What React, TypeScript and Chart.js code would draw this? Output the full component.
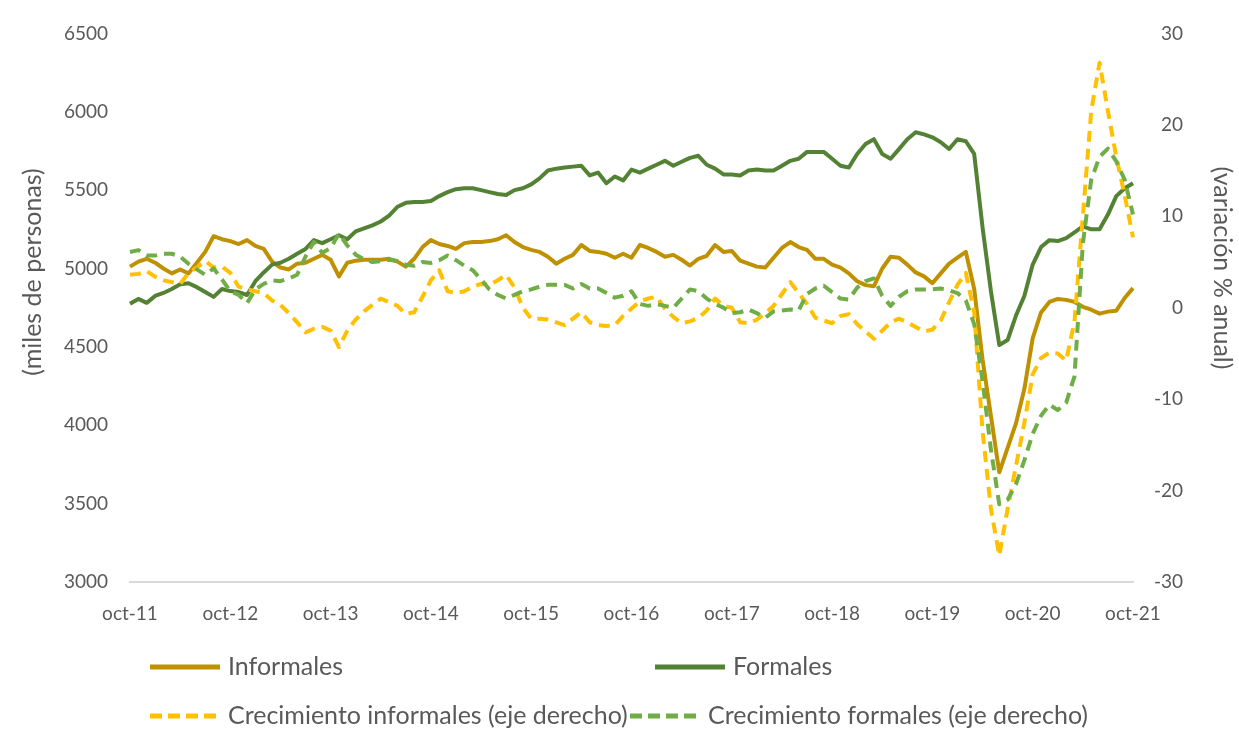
import React, { useEffect, useRef } from "react";
import { Chart, registerables } from "chart.js";

Chart.register(...registerables);

const MONTHS = ["oct", "nov", "dic", "ene", "feb", "mar", "abr", "may", "jun", "jul", "ago", "sep"];
const START_YEAR = 11;
const N_POINTS = 121;
const categories: string[] = [];
for (let i = 0; i < N_POINTS; i++) {
  const m = MONTHS[i % 12];
  const yr = START_YEAR + Math.floor((i + 9) / 12);
  categories.push(`${m}-${yr}`);
}

const informales = [
  5012, 5044, 5062, 5037, 5000, 4969, 4994, 4969, 5037, 5106, 5206, 5187,
  5175, 5156, 5181, 5144, 5125, 5044, 5006, 4994, 5031, 5037, 5062, 5087,
  5056, 4950, 5037, 5050, 5056, 5056, 5056, 5062, 5044, 5012, 5062, 5137,
  5181, 5156, 5144, 5125, 5162, 5169, 5169, 5175, 5187, 5212, 5169, 5137,
  5119, 5106, 5075, 5031, 5062, 5087, 5150, 5112, 5106, 5094, 5069, 5094,
  5069, 5150, 5131, 5106, 5075, 5087, 5056, 5019, 5062, 5081, 5150, 5106,
  5112, 5050, 5031, 5012, 5006, 5069, 5131, 5169, 5137, 5119, 5062, 5062,
  5025, 5006, 4969, 4919, 4894, 4887, 5000, 5075, 5069, 5025, 4975, 4950,
  4906, 4969, 5031, 5069, 5106, 4869, 4420, 4060, 3700, 3856, 4012, 4231,
  4556, 4720, 4787, 4806, 4800, 4787, 4756, 4737, 4712, 4725, 4731, 4812,
  4875,
];

const formales = [
  4775, 4806, 4781, 4825, 4844, 4869, 4900, 4906, 4881, 4850, 4819, 4869,
  4856, 4850, 4831, 4919, 4975, 5025, 5037, 5062, 5094, 5125, 5181, 5162,
  5187, 5212, 5187, 5237, 5256, 5275, 5300, 5337, 5394, 5419, 5425, 5425,
  5431, 5462, 5487, 5506, 5512, 5512, 5500, 5487, 5475, 5469, 5500, 5512,
  5537, 5575, 5625, 5637, 5644, 5650, 5656, 5594, 5612, 5544, 5587, 5562,
  5631, 5612, 5637, 5662, 5687, 5656, 5681, 5706, 5719, 5662, 5637, 5600,
  5600, 5594, 5625, 5631, 5625, 5625, 5656, 5687, 5700, 5744, 5744, 5744,
  5700, 5656, 5644, 5731, 5794, 5825, 5731, 5700, 5762, 5825, 5869, 5856,
  5837, 5806, 5762, 5825, 5812, 5731, 5262, 4856, 4512, 4544, 4700, 4825,
  5025, 5137, 5181, 5175, 5194, 5231, 5269, 5250, 5250, 5344, 5462, 5512,
  5544,
];

const crecInformales = [
  3.6, 3.7, 4.0, 3.4, 3.0, 2.8, 2.6, 3.8, 4.4, 5.1, 4.4, 4.5,
  3.8, 2.3, 2.0, 1.8, 1.6, 0.8, 0.3, -0.6, -1.6, -2.7, -2.3, -2.1,
  -2.5, -4.3, -2.5, -1.3, -0.4, 0.3, 1.0, 0.6, 0.2, -0.7, -0.5, 1.2,
  3.0, 4.1, 1.8, 1.6, 1.8, 2.3, 2.6, 2.5, 3.0, 3.6, 2.2, 0.0,
  -1.2, -1.2, -1.3, -1.6, -1.9, -1.2, -0.5, -1.6, -1.9, -2.0, -1.9, -0.9,
  -0.1, 0.7, 1.0, 1.2, -0.1, -1.0, -1.7, -1.5, -1.1, -0.3, 1.0, 0.2,
  0.0, -1.6, -1.7, -1.3, -0.6, 0.2, 1.5, 2.8, 1.6, 0.4, -1.1, -1.4,
  -1.7, -0.9, -0.7, -1.8, -2.6, -3.4, -2.5, -1.6, -1.2, -1.6, -2.1, -2.6,
  -2.4, -1.4, 0.6, 2.5, 3.8, -0.5, -13.5, -22.0, -27.1, -22.0, -17.3, -12.6,
  -7.3, -5.5, -4.9, -5.0, -5.8, -1.5, 10.0, 21.5, 26.8, 21.5, 16.5, 12.3,
  7.7,
];

const crecFormales = [
  6.1, 6.3, 5.7, 5.7, 5.9, 5.9, 5.6, 4.8, 4.2, 3.6, 4.3, 3.1,
  1.8, 1.4, 0.5, 2.0, 2.6, 3.0, 2.9, 3.2, 3.6, 5.6, 7.2, 6.0,
  6.5, 8.1, 6.8, 5.8, 5.3, 5.0, 5.1, 5.25, 5.1, 4.7, 4.6, 5.0,
  4.9, 5.2, 5.7, 5.2, 4.6, 4.1, 3.1, 2.0, 1.4, 1.0, 1.4, 1.8,
  2.0, 2.3, 2.5, 2.5, 2.5, 2.1, 2.6, 2.1, 2.1, 1.6, 1.1, 1.3,
  1.8, 0.4, 0.2, 0.4, 0.2, 0.0, 1.0, 2.0, 1.8, 1.0, 0.4, 0.0,
  -0.6, -0.5, -0.2, -0.6, -1.1, -0.4, -0.3, -0.2, -0.3, 1.5, 2.1, 2.4,
  1.7, 1.0, 0.9, 2.2, 2.9, 3.2, 1.3, 0.2, 1.2, 1.8, 2.0, 2.0,
  2.0, 2.1, 1.9, 1.6, 0.8, -1.8, -8.0, -15.5, -21.5, -21.0, -19.3, -16.7,
  -13.8, -11.8, -10.6, -11.2, -10.4, -7.5, 7.0, 14.0, 16.5, 17.4, 16.0, 14.0,
  10.2,
];

const SERIES_LABELS = [
  "Informales",
  "Formales",
  "Crecimiento informales (eje derecho)",
  "Crecimiento formales (eje derecho)",
];
const LEFT_TITLE = "(miles de personas)";
const RIGHT_TITLE = "(variación % anual)";

const TEXT = "#595959";
const FONT = "Lato";

const overlayPlugin = {
  id: "overlay",
  afterDraw(chart: any) {
    const ctx = chart.ctx;
    ctx.save();
    ctx.fillStyle = TEXT;
    ctx.font = `25px ${FONT}`;
    ctx.textAlign = "center";
    ctx.textBaseline = "middle";
    ctx.save();
    ctx.translate(33, 272);
    ctx.rotate(-Math.PI / 2);
    ctx.fillText(LEFT_TITLE, 0, 0);
    ctx.restore();
    ctx.save();
    ctx.translate(1222, 268);
    ctx.rotate(Math.PI / 2);
    ctx.fillText(RIGHT_TITLE, 0, 0);
    ctx.restore();

    const items = [
      { ds: 0, x: 150, y: 667 },
      { ds: 1, x: 655, y: 667 },
      { ds: 2, x: 150, y: 716 },
      { ds: 3, x: 630, y: 716 },
    ];
    ctx.textAlign = "left";
    for (const it of items) {
      const d = chart.data.datasets[it.ds];
      ctx.strokeStyle = d.borderColor;
      ctx.lineWidth = 5;
      ctx.setLineDash(d.borderDash ? [12, 6] : []);
      ctx.beginPath();
      ctx.moveTo(it.x, it.y);
      ctx.lineTo(it.x + 70, it.y);
      ctx.stroke();
      ctx.setLineDash([]);
      ctx.fillText(d.label, it.x + 78, it.y);
    }
    ctx.restore();
  },
};

export default function App() {
  const ref = useRef<HTMLCanvasElement | null>(null);
  useEffect(() => {
    if (!ref.current) return;
    const chart = new Chart(ref.current, {
      type: "line",
      data: {
        labels: categories,
        datasets: [
          {
            label: SERIES_LABELS[0],
            data: informales,
            borderColor: "#BF9000",
            borderWidth: 4,
            yAxisID: "y",
            order: 4,
          },
          {
            label: SERIES_LABELS[1],
            data: formales,
            borderColor: "#548235",
            borderWidth: 4,
            yAxisID: "y",
            order: 3,
          },
          {
            label: SERIES_LABELS[2],
            data: crecInformales,
            borderColor: "#FFC000",
            borderWidth: 4,
            borderDash: [11, 7],
            yAxisID: "y1",
            order: 2,
          },
          {
            label: SERIES_LABELS[3],
            data: crecFormales,
            borderColor: "#70AD47",
            borderWidth: 4,
            borderDash: [11, 7],
            yAxisID: "y1",
            order: 1,
          },
        ] as any,
      },
      options: {
        animation: false,
        responsive: false,
        maintainAspectRatio: false,
        elements: {
          point: { radius: 0, hoverRadius: 0 },
          line: { tension: 0, borderJoinStyle: "round", fill: false },
        },
        layout: { padding: { top: 22, left: 0, right: 56, bottom: 99 } },
        plugins: {
          legend: { display: false },
          tooltip: { enabled: false },
        },
        scales: {
          x: {
            type: "category",
            offset: false,
            grid: { display: false, drawTicks: false },
            border: { display: true, color: "#D9D9D9", width: 2 },
            ticks: {
              autoSkip: false,
              maxRotation: 0,
              minRotation: 0,
              padding: 20,
              color: TEXT,
              font: { family: FONT, size: 19 },
              callback: (_v: any, idx: number) => (idx % 12 === 0 ? categories[idx] : ""),
            },
            afterFit: (s: any) => {
              s.height = 50;
            },
          },
          y: {
            position: "left",
            min: 3000,
            max: 6500,
            grid: { display: false, drawTicks: false },
            border: { display: false },
            ticks: {
              stepSize: 500,
              padding: 22,
              color: TEXT,
              font: { family: FONT, size: 19 },
              callback: (v: any) => String(v),
            },
            afterFit: (s: any) => {
              s.width = 130;
            },
          },
          y1: {
            position: "right",
            min: -30,
            max: 30,
            grid: { display: false, drawTicks: false },
            border: { display: false },
            ticks: {
              stepSize: 10,
              padding: 22,
              crossAlign: "far",
              color: TEXT,
              font: { family: FONT, size: 19 },
              callback: (v: any) => String(v),
            },
            afterFit: (s: any) => {
              s.width = 50;
            },
          },
        },
      } as any,
      plugins: [overlayPlugin],
    });
    return () => chart.destroy();
  }, []);
  return (
    <div style={{ position: "absolute", left: 0, top: 0, width: 1239, height: 731, background: "#fff" }}>
      <canvas ref={ref} width={1239} height={731} style={{ width: 1239, height: 731 }} />
    </div>
  );
}
